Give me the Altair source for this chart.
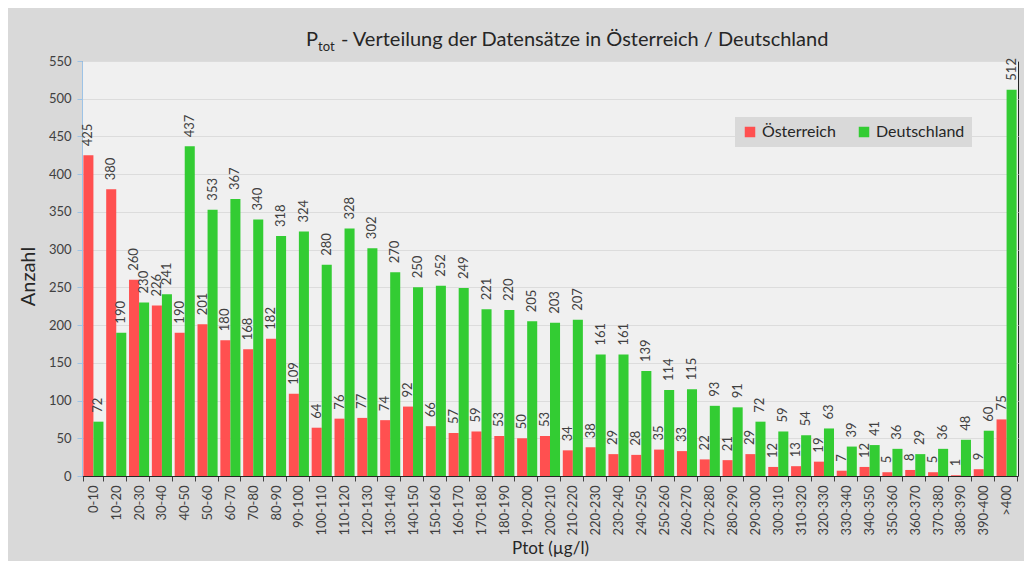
import altair as alt
import pandas as pd

categories = ["0-10", "10-20", "20-30", "30-40", "40-50", "50-60", "60-70", "70-80", "80-90", "90-100",
              "100-110", "110-120", "120-130", "130-140", "140-150", "150-160", "160-170", "170-180",
              "180-190", "190-200", "200-210", "210-220", "220-230", "230-240", "240-250", "250-260",
              "260-270", "270-280", "280-290", "290-300", "300-310", "310-320", "320-330", "330-340",
              "340-350", "350-360", "360-370", "370-380", "380-390", "390-400", ">400"]
oesterreich = [425, 380, 260, 226, 190, 201, 180, 168, 182, 109, 64, 76, 77, 74, 92, 66, 57, 59, 53, 50,
               53, 34, 38, 29, 28, 35, 33, 22, 21, 29, 12, 13, 19, 7, 12, 5, 8, 5, 1, 9, 75]
deutschland = [72, 190, 230, 241, 437, 353, 367, 340, 318, 324, 280, 328, 302, 270, 250, 252, 249, 221,
               220, 205, 203, 207, 161, 161, 139, 114, 115, 93, 91, 72, 59, 54, 63, 39, 41, 36, 29, 36,
               48, 60, 512]
series = ["Österreich", "Deutschland"]
colors = ["#ff5050", "#33cc33"]
y_ticks = list(range(0, 551, 50))

rows = []
for i, c in enumerate(categories):
    rows.append({"cat": c, "series": series[0], "value": oesterreich[i]})
    rows.append({"cat": c, "series": series[1], "value": deutschland[i]})
df = pd.DataFrame(rows)

FONT = "Lato"
W, H = 936, 415

x_enc = alt.X("cat:N", sort=categories,
              scale=alt.Scale(paddingInner=0.12, paddingOuter=0.06),
              axis=alt.Axis(title="Ptot (µg/l)", labelAngle=270, labelAlign="right", labelBaseline="middle",
                            labelFontSize=13, labelColor="#404040", labelFont=FONT, labelPadding=4,
                            labelOverlap=False,
                            tickBand="extent", tickSize=5, tickColor="#404040", domainColor="#262626",
                            titleFont=FONT, titleFontSize=17, titleFontWeight="normal", titleColor="#262626",
                            titlePadding=5, grid=False))
xoff = alt.XOffset("series:N", sort=series)
y_enc = alt.Y("value:Q", scale=alt.Scale(domain=[0, 550], nice=False),
              axis=alt.Axis(title="Anzahl", values=y_ticks, labelOverlap=False, labelFontSize=13,
                            labelColor="#404040", labelFont=FONT, labelPadding=6, tickSize=5,
                            tickColor="#9dc3e6", domainColor="#9dc3e6", gridColor="#dcdcdc",
                            titleFont=FONT, titleFontSize=20, titleFontWeight="normal",
                            titleColor="#262626", titlePadding=10, titleY=215))

bars = alt.Chart(df).mark_bar().encode(
    x=x_enc, xOffset=xoff, y=y_enc,
    color=alt.Color("series:N", sort=series, scale=alt.Scale(domain=series, range=colors),
                    legend=alt.Legend(title=None, orient="none", direction="horizontal",
                                      legendX=653, legendY=56, fillColor="#d9d9d9", padding=7,
                                      labelFont=FONT, labelFontSize=16, labelColor="#262626",
                                      symbolType="square", symbolSize=110, symbolStrokeWidth=0,
                                      columnPadding=20, labelOffset=4))
)

labels = alt.Chart(df).mark_text(angle=270, align="left", baseline="middle", dx=9,
                                 fontSize=13, font=FONT, color="#404040").encode(
    x=x_enc, xOffset=xoff, y=y_enc, text="value:Q"
)

title_p = alt.Chart(pd.DataFrame({"t": ["P"]})).mark_text(
    align="left", baseline="alphabetic", fontSize=20, font=FONT, color="#262626"
).encode(text="t:N", x=alt.value(224), y=alt.value(-15))
title_sub = alt.Chart(pd.DataFrame({"t": ["tot"]})).mark_text(
    align="left", baseline="alphabetic", fontSize=13, font=FONT, color="#262626"
).encode(text="t:N", x=alt.value(236), y=alt.value(-10))
title_rest = alt.Chart(pd.DataFrame({"t": ["- Verteilung der Datensätze in Österreich / Deutschland"]})).mark_text(
    align="left", baseline="alphabetic", fontSize=20, font=FONT, color="#262626"
).encode(text="t:N", x=alt.value(259), y=alt.value(-15))

chart = alt.layer(bars, labels, title_p, title_sub, title_rest).properties(
    width=W, height=H,
    autosize=alt.AutoSizeParams(type="none"),
    padding={"left": 74, "top": 53, "right": 6, "bottom": 85},
    background="#d9d9d9",
).configure_view(fill="#f0f0f0", stroke="#262626", strokeWidth=1)

chart.save("out.html", embed_options={"renderer": "svg", "actions": False})
